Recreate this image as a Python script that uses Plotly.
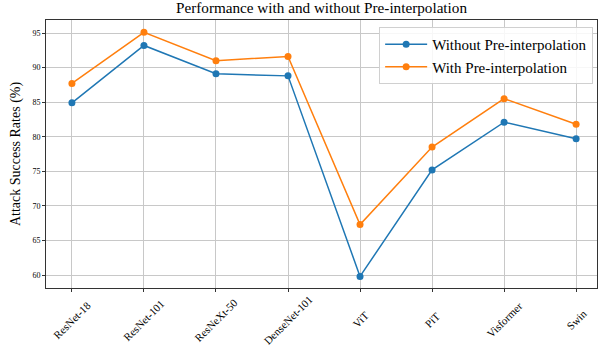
import plotly.graph_objects as go

models = ["ResNet-18", "ResNet-101", "ResNeXt-50", "DenseNet-101", "ViT", "PiT", "Visformer", "Swin"]
without_pre = [84.9, 93.2, 89.1, 88.8, 59.8, 75.2, 82.1, 79.7]
with_pre = [87.7, 95.1, 91.0, 91.6, 67.3, 78.5, 85.5, 81.8]
y_ticks = [60, 65, 70, 75, 80, 85, 90, 95]

font_family = "Liberation Serif"

fig = go.Figure()
fig.add_trace(go.Scatter(x=list(range(len(models))), y=without_pre, mode="lines+markers",
                         name="Without Pre-interpolation",
                         line=dict(color="#1f77b4", width=1.5), marker=dict(size=7, color="#1f77b4")))
fig.add_trace(go.Scatter(x=list(range(len(models))), y=with_pre, mode="lines+markers",
                         name="With Pre-interpolation",
                         line=dict(color="#ff7f0e", width=1.5), marker=dict(size=7, color="#ff7f0e")))

# rotated category labels centred under each tick (matplotlib style)
for i, m in enumerate(models):
    fig.add_annotation(x=i, xref="x", y=-0.118, yref="paper", text=m, textangle=-45,
                       showarrow=False, xanchor="center", yanchor="middle",
                       font=dict(size=11, family=font_family, color="black"))

fig.update_layout(
    width=603, height=347,
    margin=dict(l=46, r=6, t=20, b=59),
    paper_bgcolor="white", plot_bgcolor="white",
    font=dict(family=font_family, color="black"),
    title=dict(text="Performance with and without Pre-interpolation", x=0.5, xanchor="center",
               xref="paper", y=0.992, yanchor="top", font=dict(size=15.2, family=font_family)),
    showlegend=True,
    legend=dict(x=0.993, y=0.974, xanchor="right", yanchor="top",
                bgcolor="rgba(255,255,255,0.85)", bordercolor="#d0d0d0", borderwidth=1,
                font=dict(size=15, family=font_family), itemwidth=42, tracegroupgap=0),
    xaxis=dict(range=[-0.36, 7.29], tickmode="array", tickvals=list(range(len(models))),
               showticklabels=False,
               showgrid=True, gridcolor="#c8c8c8", gridwidth=1,
               showline=True, linecolor="#333333", linewidth=1, mirror=True,
               ticks="outside", ticklen=3, tickcolor="#333333", zeroline=False),
    yaxis=dict(range=[58.12, 96.88], tickmode="array", tickvals=y_ticks,
               tickfont=dict(size=8, family=font_family),
               title=dict(text="Attack Success Rates (%)", font=dict(size=14, family=font_family), standoff=8),
               showgrid=True, gridcolor="#c8c8c8", gridwidth=1,
               showline=True, linecolor="#333333", linewidth=1, mirror=True,
               ticks="outside", ticklen=3, tickcolor="#333333", zeroline=False),
)

fig.write_html("out.html", config={"displayModeBar": False},
               post_script="document.body.style.margin='0';")
